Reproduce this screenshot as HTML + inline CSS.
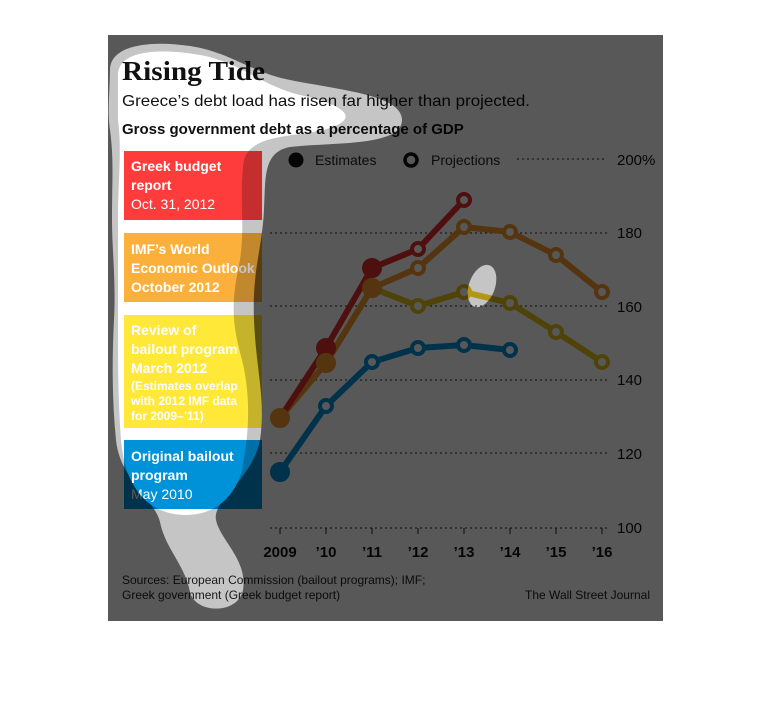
<!DOCTYPE html>
<html><head><meta charset="utf-8"><style>
html,body{margin:0;padding:0;background:#fff;width:770px;height:716px;overflow:hidden}
svg{display:block}
</style></head><body>
<svg width="770" height="716" viewBox="0 0 770 716" xmlns="http://www.w3.org/2000/svg" font-family="Liberation Sans, sans-serif">
<defs>
<mask id="m" maskUnits="userSpaceOnUse" x="0" y="0" width="770" height="716">
<rect x="0" y="0" width="770" height="716" fill="#fff"/>
<path fill="#5a5a5a" d="M110,70 C110,45 150,40 190,46 C230,52 250,72 290,80 C340,90 402,95 402,120 C402,147 330,142 290,147 C262,152 266,180 264,210 C262,250 252,270 254,320 C256,370 266,400 260,440 C252,480 212,500 216,520 C220,540 248,560 243,590 C238,615 195,614 190,592 C185,565 165,548 160,522 C155,500 120,480 116,440 C112,400 112,360 114,320 C116,280 112,250 112,220 C112,180 114,160 110,130 C107,110 110,90 110,70 Z"/>
<ellipse cx="482" cy="286" rx="13" ry="22" transform="rotate(20 482 286)" fill="#5a5a5a"/>
<path fill="#000" d="M118,75 C118,50 160,48 200,55 C240,62 260,85 300,95 C345,105 360,118 330,128 C300,138 252,132 244,160 C238,200 247,230 238,270 C230,310 234,330 242,360 C252,400 248,440 242,470 C234,500 212,515 186,515 C150,515 125,490 121,440 C118,400 118,360 118,330 C118,290 118,260 118,220 C118,180 122,150 118,120 Z"/>
</mask>
</defs>
<rect x="108" y="35" width="555" height="586" fill="#fff"/>
<text x="122" y="80" font-family="Liberation Serif, serif" font-weight="bold" font-size="27" fill="#111" textLength="143" lengthAdjust="spacingAndGlyphs">Rising Tide</text>
<text x="122" y="106" font-size="16" fill="#111" textLength="408" lengthAdjust="spacingAndGlyphs">Greece’s debt load has risen far higher than projected.</text>
<text x="122" y="134" font-size="15" font-weight="bold" fill="#111">Gross government debt as a percentage of GDP</text>
<circle cx="296" cy="160" r="7.5" fill="#111"/>
<text x="315" y="165" font-size="14" fill="#222">Estimates</text>
<circle cx="411" cy="160" r="6" fill="#fff" stroke="#111" stroke-width="3.5"/>
<text x="431" y="165" font-size="14" fill="#222">Projections</text>
<g stroke="#222" stroke-width="1" stroke-dasharray="2,3">
<line x1="517" y1="159" x2="607" y2="159"/>
<line x1="270" y1="233" x2="607" y2="233"/>
<line x1="270" y1="306" x2="607" y2="306"/>
<line x1="270" y1="380" x2="607" y2="380"/>
<line x1="270" y1="453" x2="607" y2="453"/>
<line x1="270" y1="528" x2="607" y2="528"/>
</g>
<g stroke="#222" stroke-width="1"><line x1="280" y1="528" x2="280" y2="534"/><line x1="326" y1="528" x2="326" y2="534"/><line x1="372" y1="528" x2="372" y2="534"/><line x1="418" y1="528" x2="418" y2="534"/><line x1="464" y1="528" x2="464" y2="534"/><line x1="510" y1="528" x2="510" y2="534"/><line x1="556" y1="528" x2="556" y2="534"/><line x1="602" y1="528" x2="602" y2="534"/></g>
<g font-size="15" fill="#111"><text x="617" y="165">200%</text><text x="617" y="238">180</text><text x="617" y="312">160</text><text x="617" y="385">140</text><text x="617" y="459">120</text><text x="617" y="533">100</text></g>
<g font-size="15" font-weight="bold" fill="#111" text-anchor="middle"><text x="280" y="557">2009</text><text x="326" y="557">’10</text><text x="372" y="557">’11</text><text x="418" y="557">’12</text><text x="464" y="557">’13</text><text x="510" y="557">’14</text><text x="556" y="557">’15</text><text x="602" y="557">’16</text></g>
<text x="122" y="584" font-size="12" fill="#222">Sources: European Commission (bailout programs); IMF;</text>
<text x="122" y="599" font-size="12" fill="#222">Greek government (Greek budget report)</text>
<text x="650" y="599" font-size="12" fill="#222" text-anchor="end">The Wall Street Journal</text>
<rect x="124" y="151" width="138" height="69" fill="#ff3c3c"/>
<rect x="124" y="233" width="138" height="69" fill="#fbb03b"/>
<rect x="124" y="315" width="138" height="113" fill="#ffe838"/>
<rect x="124" y="440" width="138" height="69" fill="#0092d8"/>
<g fill="#fff" font-weight="bold" font-size="14">
<text x="131" y="171">Greek budget</text><text x="131" y="190">report</text><text x="131" y="209" font-weight="normal">Oct. 31, 2012</text>
<text x="131" y="254">IMF’s World</text><text x="131" y="273">Economic Outlook</text><text x="131" y="292">October 2012</text>
<text x="131" y="335">Review of</text><text x="131" y="354">bailout program</text><text x="131" y="373">March 2012</text>
<text x="131" y="390" font-size="12">(Estimates overlap</text><text x="131" y="405" font-size="12">with 2012 IMF data</text><text x="131" y="420" font-size="12">for 2009–’11)</text>
<text x="131" y="461">Original bailout</text><text x="131" y="480">program</text><text x="131" y="499" font-weight="normal">May 2010</text>
</g>
<g fill="none" stroke-width="6" stroke-linejoin="round">
<polyline stroke="#0092d8" points="280,472 326,406 372,362 418,348 464,345 510,350"/>
<polyline stroke="#e8c21a" points="280,418 326,363 372,288 418,306 464,292 510,303 556,332 602,362"/>
<polyline stroke="#f29a2e" points="280,418 326,363 372,288 418,268 464,227 510,232 556,255 602,292"/>
<polyline stroke="#e0302c" points="280,418 326,348 372,268 418,249 464,200"/>
</g>
<g stroke-width="4">
<circle cx="280" cy="472" r="8" fill="#0092d8" stroke="#0092d8"/>
<g fill="#fff" stroke="#0092d8"><circle cx="326" cy="406" r="6"/><circle cx="372" cy="362" r="6"/><circle cx="418" cy="348" r="6"/><circle cx="464" cy="345" r="6"/><circle cx="510" cy="350" r="6"/></g>
<g fill="#fff" stroke="#e8c21a"><circle cx="418" cy="306" r="6"/><circle cx="464" cy="292" r="6"/><circle cx="510" cy="303" r="6"/><circle cx="556" cy="332" r="6"/><circle cx="602" cy="362" r="6"/></g>
<g fill="#fff" stroke="#f29a2e"><circle cx="418" cy="268" r="6"/><circle cx="464" cy="227" r="6"/><circle cx="510" cy="232" r="6"/><circle cx="556" cy="255" r="6"/><circle cx="602" cy="292" r="6"/></g>
<g fill="#e0302c" stroke="#e0302c"><circle cx="326" cy="348" r="8"/><circle cx="372" cy="268" r="8"/></g>
<g fill="#f29a2e" stroke="#f29a2e"><circle cx="280" cy="418" r="8"/><circle cx="326" cy="363" r="8"/><circle cx="372" cy="288" r="8"/></g>
<g fill="#fff" stroke="#e0302c"><circle cx="418" cy="249" r="6"/><circle cx="464" cy="200" r="6"/></g>
</g>
<rect x="108" y="35" width="555" height="586" fill="#000" opacity="0.65" mask="url(#m)"/>
</svg>
</body></html>
